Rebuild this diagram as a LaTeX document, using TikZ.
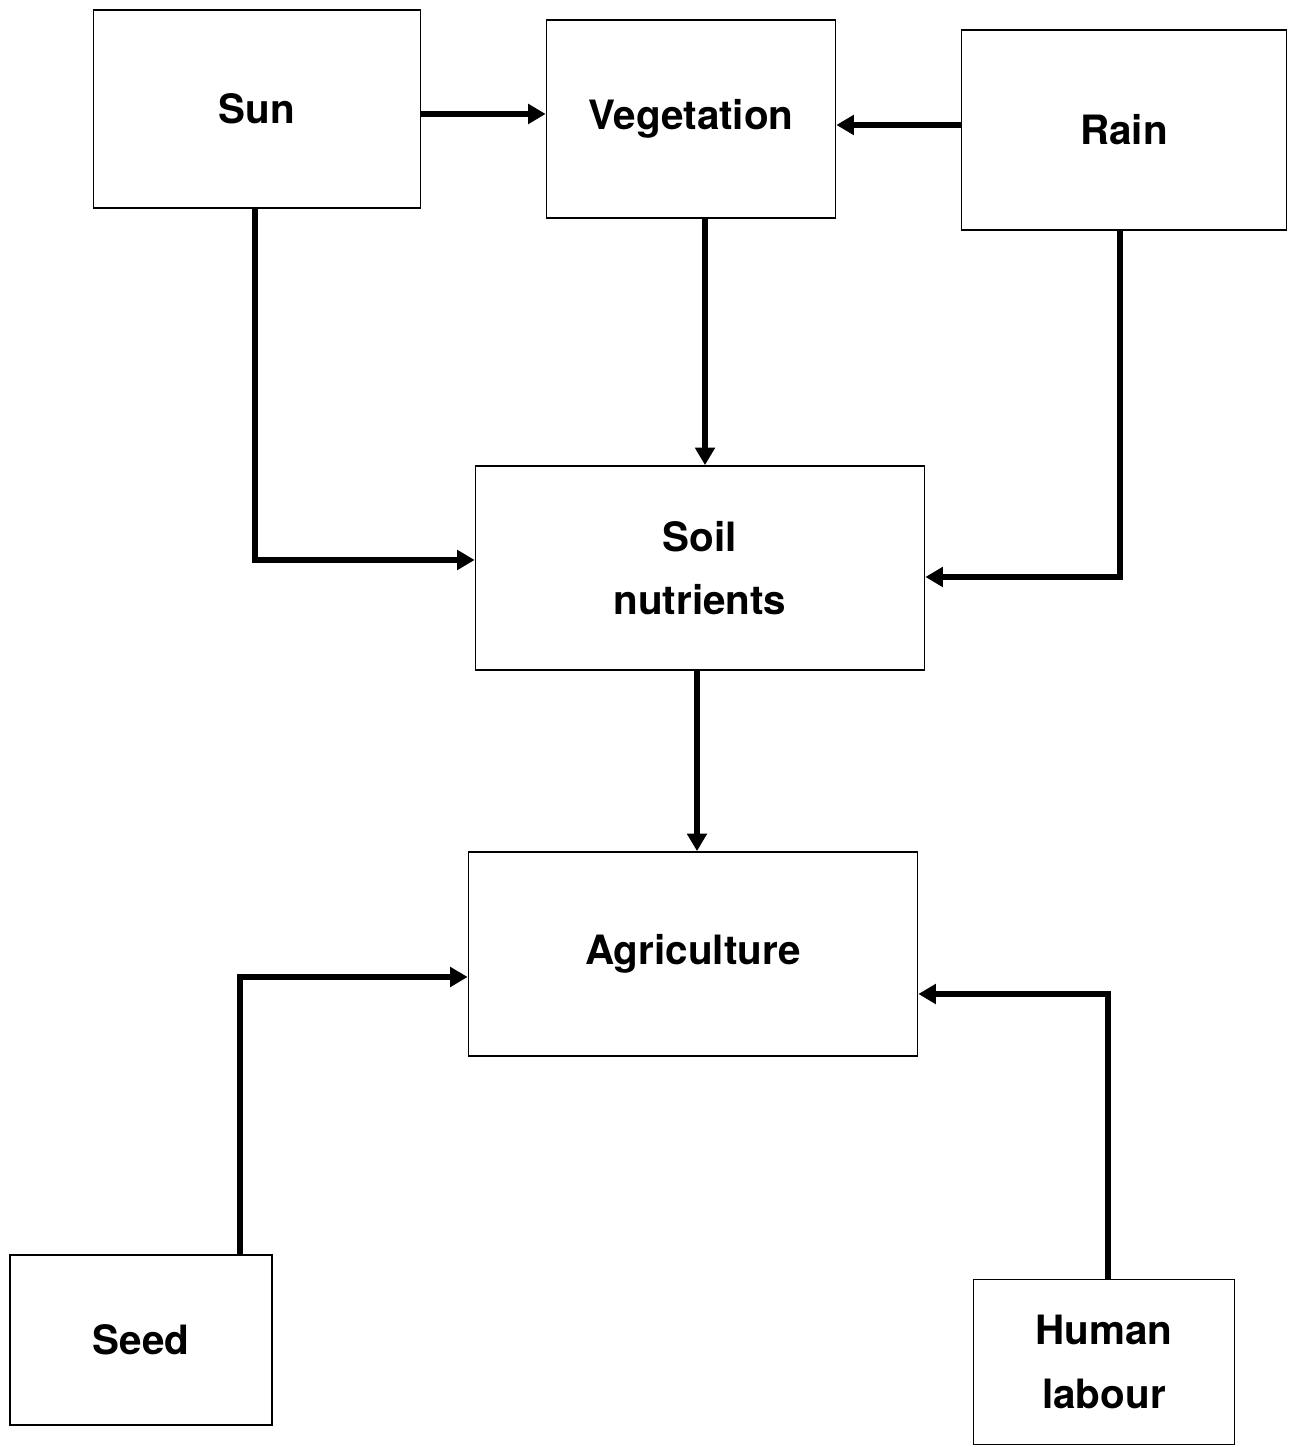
\documentclass[tikz,border=0pt]{standalone}
\usepackage{fontspec}
\setmainfont{TeX Gyre Heros}
\usepackage{tikz}
\usetikzlibrary{arrows.meta, positioning}

\tikzset{
  blockbox/.style={draw, line width=0.5pt, align=center,
                   font=\fontsize{11.5}{18}\selectfont\bfseries},
  flowline/.style={-{Triangle[length=5pt,width=5.5pt]}, line width=1.7pt}
}

\begin{document}
\begin{tikzpicture}
      \useasboundingbox (0,0) rectangle (12.94,14.47);
      % Top row
      \node[blockbox, minimum width=3.27cm, minimum height=1.98cm] (sun) at (2.57,13.38) {Sun};
      \node[blockbox, minimum width=2.89cm, minimum height=1.98cm] (veg) at (6.91,13.28) {Vegetation};
      \node[blockbox, minimum width=3.25cm, minimum height=2.0cm] (rain) at (11.24,13.17) {Rain};
      % Middle
      \node[blockbox, minimum width=4.49cm, minimum height=2.04cm] (soil) at (7.0,8.79) {Soil\\nutrients};
      \node[blockbox, minimum width=4.49cm, minimum height=2.04cm] (agri) at (6.93,4.93) {Agriculture};
      % Bottom corners
      \node[blockbox, minimum width=2.62cm, minimum height=1.70cm] (seed) at (1.41,1.07) {Seed};
      \node[blockbox, minimum width=2.61cm, minimum height=1.65cm] (labour) at (11.04,0.85) {Human\\labour};
      % Top row arrows
      \draw[flowline] (sun.east |- 0,13.33) -- (veg.west |- 0,13.33);
      \draw[flowline] (rain.west |- 0,13.22) -- (veg.east |- 0,13.22);
      \draw[flowline] (veg.south -| 7.05,0) -- (soil.north -| 7.05,0);
      % Into soil nutrients
      \draw[flowline] (sun.south -| 2.55,0) |- (soil.west |- 0,8.87);
      \draw[flowline] (rain.south -| 11.2,0) |- (soil.east |- 0,8.7);
      \draw[flowline] (soil.south -| 6.97,0) -- (agri.north -| 6.97,0);
      % Into agriculture
      \draw[flowline] (seed.north -| 2.4,0) |- (agri.west |- 0,4.7);
      \draw[flowline] (labour.north -| 11.08,0) |- (agri.east |- 0,4.53);
\end{tikzpicture}
\end{document}
